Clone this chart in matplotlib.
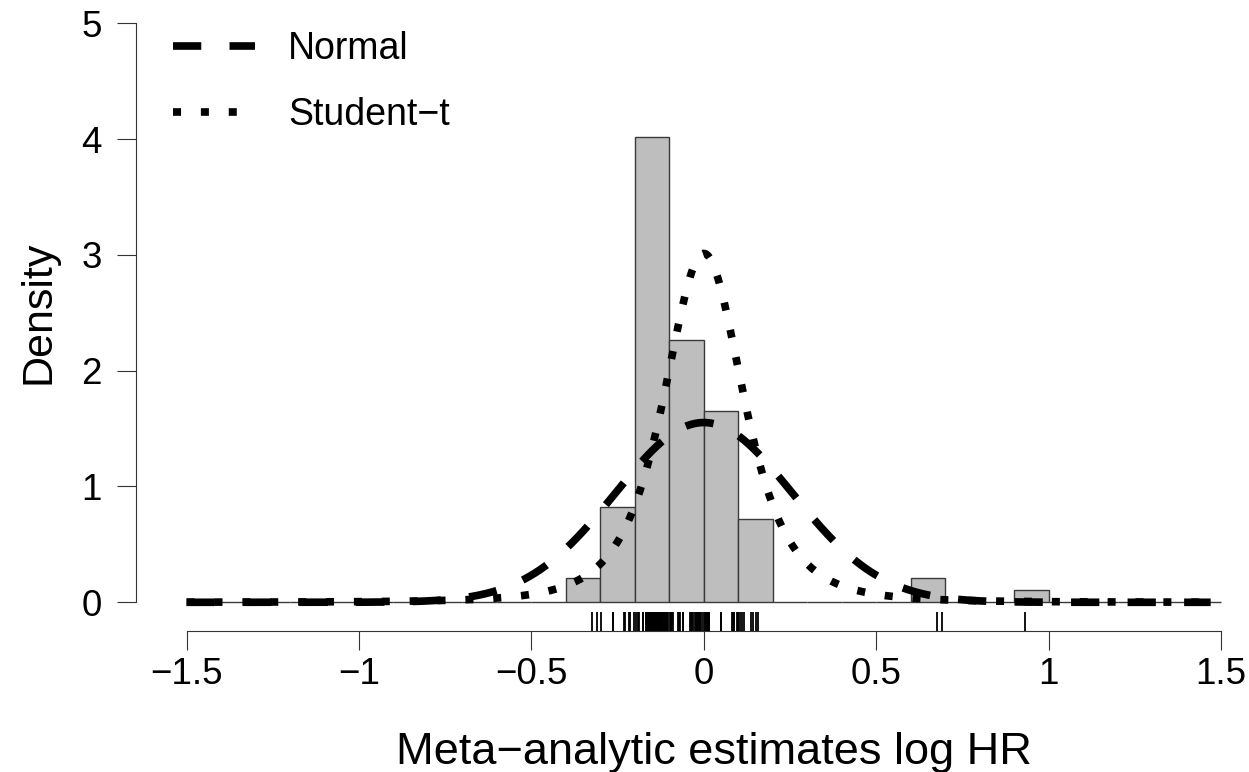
import numpy as np
import matplotlib
matplotlib.use("Agg")
import matplotlib.pyplot as plt
import matplotlib.transforms as mtransforms
from math import gamma, pi, sqrt

plt.rcParams['font.family'] = ['Liberation Sans', 'DejaVu Sans']

# study-level log HR estimates (one rug tick each)
estimates = [
    -0.323, -0.309,
    -0.299, -0.264, -0.262, -0.231, -0.228, -0.218, -0.214, -0.203,
    -0.198, -0.190, -0.187, -0.176, -0.176, -0.169, -0.169, -0.165, -0.162, -0.160,
    -0.158, -0.156, -0.155, -0.153, -0.151, -0.150, -0.148, -0.146, -0.145, -0.143,
    -0.141, -0.140, -0.138, -0.136, -0.135, -0.133, -0.131, -0.129, -0.128, -0.126,
    -0.124, -0.122, -0.120, -0.118, -0.116, -0.113, -0.110, -0.107, -0.104,
    -0.098, -0.096, -0.094, -0.092, -0.090, -0.075, -0.072, -0.068, -0.060, -0.060,
    -0.041, -0.038, -0.035, -0.032, -0.026, -0.024, -0.020, -0.018, -0.015, -0.012,
    -0.012, -0.005,
    0.002, 0.004, 0.006, 0.008, 0.012, 0.015, 0.015, 0.051, 0.051, 0.081,
    0.084, 0.088, 0.088, 0.096, 0.099, 0.099,
    0.105, 0.110, 0.117, 0.136, 0.142, 0.150, 0.157,
    0.676, 0.691,
    0.933,
]
bin_edges = np.round(np.arange(-15, 16) / 10, 1)

# fitted predictive distributions
normal_mu, normal_sd = 0.0, 0.257
t_mu, t_scale, t_df = 0.0, 0.122, 3

xticks = [-1.5, -1, -0.5, 0, 0.5, 1, 1.5]
xticklabels = ['\u22121.5', '\u22121', '\u22120.5', '0', '0.5', '1', '1.5']
yticks = [0, 1, 2, 3, 4, 5]


def normal_pdf(x, mu, sd):
    return np.exp(-0.5 * ((x - mu) / sd) ** 2) / (sd * sqrt(2 * pi))


def t_pdf(x, mu, s, nu):
    c = gamma((nu + 1) / 2) / (gamma(nu / 2) * sqrt(nu * pi) * s)
    return c * (1 + ((x - mu) / s) ** 2 / nu) ** (-(nu + 1) / 2)


fig = plt.figure(figsize=(12.49, 7.72), dpi=100)
ax = fig.add_axes([136 / 1249, 1 - 631 / 772, 1 - 136 / 1249, 631 / 772])

ax.hist(estimates, bins=bin_edges, density=True, facecolor='#bebebe',
        edgecolor='#3a3a3a', linewidth=1.0, zorder=1)

xs = np.linspace(-1.5, 1.47, 1201)
lw = 5.5
ax.plot(xs, normal_pdf(xs, normal_mu, normal_sd), color='black', lw=lw,
        linestyle=(0, (3.7, 3.7)), dash_capstyle='butt', label='Normal', zorder=3)
ax.plot(xs, t_pdf(xs, t_mu, t_scale, t_df), color='black', lw=lw,
        linestyle=(0, (1.05, 2.6)), dash_capstyle='butt', label='Student\u2212t', zorder=3)

# rug along the bottom edge of the plotting region
trans = mtransforms.blended_transform_factory(ax.transData, ax.transAxes)
ax.vlines(estimates, 0, 0.03, transform=trans, color='black', lw=1.3, zorder=2)

ax.set_xlim((136 - 703.8) / 344.8, (1249 - 703.8) / 344.8)
ax.set_ylim(-(631 - 602.3) / 115.8, 602.3 / 115.8)

for side in ['top', 'right']:
    ax.spines[side].set_visible(False)
ax.spines['left'].set_bounds(0, 5)
ax.spines['bottom'].set_bounds(-1.5, 1.5)
for side in ['left', 'bottom']:
    ax.spines[side].set_color('#333333')
    ax.spines[side].set_linewidth(0.8)

ax.set_xticks(xticks)
ax.set_xticklabels(xticklabels)
ax.set_yticks(yticks)
ax.set_yticklabels([str(v) for v in yticks])
ax.tick_params(axis='both', direction='out', length=13.7, width=0.8,
               color='#333333', labelsize=26.5)
ax.tick_params(axis='x', pad=5)
ax.tick_params(axis='y', pad=11)

fig.text(714 / 1249, 1 - 764 / 772, 'Meta\u2212analytic estimates log HR',
         ha='center', va='baseline', fontsize=32.5)
fig.text(38 / 1249, 1 - 312 / 772, 'Density', rotation=90,
         ha='center', va='center', fontsize=31)

ax.legend(loc='upper left', bbox_to_anchor=(173 / 1249, 1 - 31 / 772),
          bbox_transform=fig.transFigure, frameon=False, fontsize=27,
          handlelength=2.19, handletextpad=0.88, labelspacing=0.8,
          borderpad=0, borderaxespad=0)

fig.savefig('out.png', dpi=100)
